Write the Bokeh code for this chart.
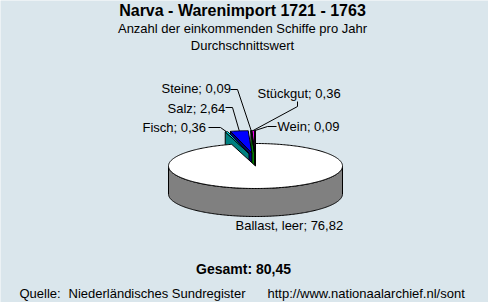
import math

from bokeh.core.properties import value
from bokeh.embed import file_html
from bokeh.models import ColumnDataSource, Range1d
from bokeh.plotting import figure
from bokeh.resources import INLINE

# --- data -------------------------------------------------------------
categories = ["Ballast, leer", "Fisch", "Salz", "Steine", "Stückgut", "Wein"]
ships_per_year = [76.82, 0.36, 2.64, 0.09, 0.36, 0.09]
exploded = [False, True, True, True, True, True]
total_label = "80,45"

title = "Narva - Warenimport 1721 - 1763"
subtitle_1 = "Anzahl der einkommenden Schiffe pro Jahr"
subtitle_2 = "Durchschnittswert"
source_parts = ["Quelle:", "Niederländisches Sundregister", "http://www.nationaalarchief.nl/sont"]

# --- styles -----------------------------------------------------------
BG = "#DAE6EC"
FONT = "Liberation Sans"
top_colors = ["#FFFFFF", "#00FFFF", "#0000FF", "#00FF00", "#FF00FF", "#000000"]
side_colors = ["#808080", "#008080", "#000080", "#008000", "#800080", "#000000"]

# pie geometry in page pixels (y grows downwards)
CX, CY = 255.0, 165.5
RX, RY = 87.0, 22.5
DEPTH = 28.0
EXPLODE_X, EXPLODE_Y = 25.0, 13.0

W, H = 488, 302


def rim(phi_deg, ox=0.0, oy=0.0, drop=0.0):
    """Point on the top rim; phi measured clockwise from 12 o'clock."""
    a = math.radians(phi_deg)
    return CX + ox + RX * math.sin(a), CY + oy - RY * math.cos(a) + drop


def arc(a0, a1, ox=0.0, oy=0.0, drop=0.0, step=1.0):
    n = max(2, int(abs(a1 - a0) / step) + 2)
    pts = [rim(a0 + (a1 - a0) * i / (n - 1), ox, oy, drop) for i in range(n)]
    return [p[0] for p in pts], [p[1] for p in pts]


def base(y, size):
    """Shift a text baseline so the svg glyphs land on it."""
    return y - 0.33 * size


p = figure(width=W, height=H, x_range=Range1d(0, W), y_range=Range1d(H, 0),
           title=None, toolbar_location=None, output_backend="svg",
           min_border=0, min_border_left=0, min_border_right=0,
           min_border_top=0, min_border_bottom=0)
p.axis.visible = False
p.xgrid.visible = False
p.ygrid.visible = False
p.outline_line_color = None
p.background_fill_color = BG
p.border_fill_color = BG

# slice angles (clockwise from 12 o'clock)
total = sum(ships_per_year)
starts, ends = [], []
acc = 0.0
for v in ships_per_year:
    starts.append(acc)
    acc += v / total * 360.0
    ends.append(acc)

offsets = []
for i in range(len(categories)):
    if exploded[i]:
        mid = math.radians((starts[i] + ends[i]) / 2)
        offsets.append((EXPLODE_X * math.sin(mid), -EXPLODE_Y * math.cos(mid)))
    else:
        offsets.append((0.0, 0.0))

xs, ys, fills = [], [], []

# exploded slices sit behind the big one: draw them first, right to left
for i in sorted([k for k in range(len(categories)) if exploded[k]], key=lambda k: -starts[k]):
    ox, oy = offsets[i]
    vx, vy = CX + ox, CY + oy
    lx, ly = rim(starts[i], ox, oy)
    # left radial face
    xs.append([vx, lx, lx, vx])
    ys.append([vy, ly, ly + DEPTH, vy + DEPTH])
    fills.append(side_colors[i])
    # top face
    ax, ay = arc(starts[i], ends[i], ox, oy, step=0.2)
    xs.append([vx] + ax)
    ys.append([vy] + ay)
    fills.append(top_colors[i])

# large slice: outer wall on the front half, then its top
for i in [k for k in range(len(categories)) if not exploded[k]]:
    ox, oy = offsets[i]
    a0, a1 = max(starts[i], 90.0), min(ends[i], 270.0)
    if a1 > a0:
        tx, ty = arc(a0, a1, ox, oy)
        bx, by = arc(a1, a0, ox, oy, drop=DEPTH)
        xs.append(tx + bx)
        ys.append(ty + by)
        fills.append(side_colors[i])
    ax, ay = arc(starts[i], ends[i], ox, oy)
    xs.append([CX + ox] + ax)
    ys.append([CY + oy] + ay)
    fills.append(top_colors[i])

p.patches(xs="xs", ys="ys", fill_color="fill", line_color="black", line_width=1,
          source=ColumnDataSource(dict(xs=xs, ys=ys, fill=fills)))

# --- data labels ---------------------------------------------------------
def fmt(v):
    return f"{v:.2f}".replace(".", ",")


label_text = [f"{c}; {fmt(v)}" for c, v in zip(categories, ships_per_year)]
# text anchor (x, baseline) and leader path (start, elbow) for each label
label_pos = [(235, 229), (142, 131.5), (167, 112), (161, 92.5), (257, 97.5), (277, 130.5)]
leader = [None,
          [(208, 127), (220, 127)],
          [(225, 107), (232, 107)],
          [(230, 89), (237, 89)],
          [(297, 101), (297, 106)],
          [(276, 126), (267, 126)]]

lxs, lys = [], []
for i in range(len(categories)):
    if leader[i] is None:
        continue
    ox, oy = offsets[i]
    tx, ty = rim((starts[i] + ends[i]) / 2, ox, oy)
    pts = leader[i] + [(tx, ty)]
    lxs.append([q[0] for q in pts])
    lys.append([q[1] for q in pts])
p.multi_line(xs=lxs, ys=lys, line_color="black", line_width=1)

p.text(x=[q[0] for q in label_pos], y=[base(q[1], 13) for q in label_pos], text=label_text,
       text_font=value(FONT), text_font_size="13px", text_color="black",
       text_align="left", text_baseline="alphabetic")

# --- titles and footer ---------------------------------------------------
p.text(x=[242], y=[base(15, 16)], text=[title], text_font=value(FONT), text_font_size="16px",
       text_font_style="bold", text_color="black", text_align="center",
       text_baseline="alphabetic")
p.text(x=[242, 242], y=[base(32, 13), base(49, 13)], text=[subtitle_1, subtitle_2],
       text_font=value(FONT), text_font_size="13px", text_color="black",
       text_align="center", text_baseline="alphabetic")
p.text(x=[243], y=[base(273, 14)], text=["Gesamt: " + total_label], text_font=value(FONT),
       text_font_size="14px", text_font_style="bold", text_color="black",
       text_align="center", text_baseline="alphabetic")
p.text(x=[19, 68, 267], y=[base(297.5, 13)] * 3, text=source_parts, text_font=value(FONT),
       text_font_size="13px", text_color="black", text_align="left",
       text_baseline="alphabetic")

open("out.html", "w").write(file_html(p, INLINE))
